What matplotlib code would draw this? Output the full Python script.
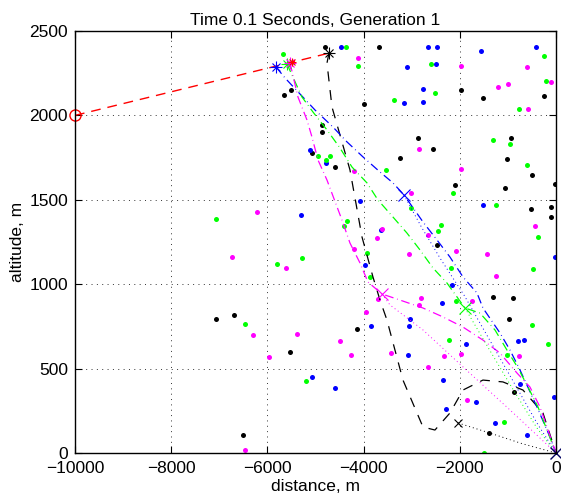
import numpy as np
import matplotlib
matplotlib.use("Agg")
import matplotlib.pyplot as plt

plt.rcParams['font.family'] = ['Liberation Sans', 'DejaVu Sans']

# scattered population points (distance, altitude)
black_x = [-5648, -5509, -4802, -3687, -3985, -1981, -1518, -256, -4865, -4865, -5066, -4595,
           -2862, -2564, -3250, -942, -1019, -499, -2106, -1067, -15, -520, -98, -98, -2467,
           -1310, -888, -971, -4144, -5524, -873, -1400, -7075, -6701, -6501]
black_y = [2119, 2150, 2403, 2403, 2067, 2150, 2105, 2117, 1941, 1900, 1779, 1692,
           1864, 1803, 1749, 1864, 1742, 1645, 1590, 1570, 1594, 1447, 1455, 1398, 1232,
           922, 918, 796, 733, 600, 359, 120, 796, 817, 107]

blue_x = [-4477, -2661, -2467, -3091, -2501, -2765, -3160, -2772, -1552, -422, -5108, -4775,
          -4068, -1518, -5308, -3638, -21, -3971, -2162, -2370, -3035, -3056, -3839, -1877,
          -790, -665, -3077, -5066, -4601, -2349, -748, -48, -1669, -2293, -1268, -603]
blue_y = [2403, 2403, 2403, 2288, 2306, 2158, 2075, 2078, 2381, 2403, 1795, 1716,
          1493, 1469, 1408, 1321, 1159, 1114, 993, 889, 796, 754, 750, 646,
          663, 671, 582, 448, 387, 432, 411, 332, 302, 261, 176, 109]

green_x = [-5682, -4366, -4110, -2605, -2522, -3374, -256, -214, -763, -4941, -4705, -4788,
           -3534, -1303, -963, -609, -2135, -3008, -1241, -4338, -4401, -2384, -2460, -368,
           -3923, -5800, -5287, -3867, -2189, -484, -2079, -499, -166, -2225, -1025, -5198,
           -1087, -1490, -7069, -6466]
green_y = [2364, 2403, 2294, 2302, 2131, 2091, 2354, 2202, 2038, 1759, 1759, 1736,
           1676, 1852, 1832, 1706, 1538, 1453, 1467, 1374, 1343, 1353, 1315, 1278,
           1183, 1120, 1157, 1043, 1096, 1088, 902, 760, 648, 668, 579, 427,
           186, 2, 1386, 764]

magenta_x = [-4110, -1981, -1212, -1004, -576, -609, -98, -2841, -1969, -4200, -3021, -6210,
             -3611, -3721, -2661, -430, -4193, -3063, -2085, -1435, -5620, -1241, -3701, -3957,
             -2807, -2841, -1753, -6293, -5391, -4491, -5967, -4262, -769, -3424, -2335, -1969,
             -2661, -1844, -6729, -6459]
magenta_y = [2340, 2294, 2166, 2184, 2040, 2287, 2196, 1803, 1680, 1669, 1542, 1428,
             1329, 1274, 1290, 1345, 1207, 1179, 1198, 1181, 1096, 1050, 912, 833,
             918, 875, 899, 699, 705, 662, 571, 581, 575, 594, 575, 585,
             511, 314, 1159, 16]

# flight paths
red_px = [-10000, -4760]
red_py = [2000, 2366]

black_px = [-4719, -4761, -4657, -4283, -4033, -3805, -3659, -3514, -3181, -2765, -2516,
            -2204, -1933, -1518, -1102, -686, -270, 0]
black_py = [2370, 2310, 2050, 1677, 1280, 1043, 906, 788, 432, 154, 136,
            237, 373, 432, 421, 373, 237, 0]

blue_px = [-5821, -5634, -5010, -4636, -4345, -4012, -3659, -3389, -3160, -2765, -2474,
           -2204, -1933, -1642, -1518, -1164, -956, -748, -395, -125, 0]
blue_py = [2287, 2222, 2032, 1931, 1843, 1754, 1665, 1600, 1529, 1369, 1262,
           1161, 1043, 948, 859, 711, 610, 492, 273, 95, 0]

green_px = [-5593, -5281, -5052, -4761, -4491, -4241, -3929, -3701, -3389, -3098, -2827,
            -2557, -2266, -1892, -1580, -1268, -1019, -790, -582, -374, 0]
green_py = [2305, 2109, 2020, 1914, 1807, 1694, 1600, 1499, 1398, 1303, 1203,
            1096, 1007, 859, 829, 729, 610, 504, 391, 273, 0]

magenta_px = [-5530, -5364, -5177, -5073, -4948, -4761, -4449, -4283, -4075, -3909, -3617,
              -3243, -2765, -2349, -1933, -1518, -1164, -811, -541, -333, 0]
magenta_py = [2311, 2109, 1973, 1872, 1736, 1617, 1380, 1244, 1126, 1013, 942,
              906, 859, 806, 746, 669, 592, 474, 391, 273, 0]

# predicted (dotted) paths
blue_dx = [-3160, -2800, -2400, -1900, -1400, -900, -400, 0]
blue_dy = [1529, 1340, 1150, 930, 680, 430, 180, 0]
green_dx = [-1892, -1400, -900, -400, 0]
green_dy = [859, 620, 380, 150, 0]
magenta_dx = [-3617, -3451, -2765, -1933, -956, 0]
magenta_dy = [942, 877, 729, 510, 255, 0]
black_dx = [-2037, -1372, -700, 0]
black_dy = [178, 118, 55, 0]

GREEN = '#00ff00'
MAGENTA = '#ff00ff'


def asterisk(ax, x, y, color, ms=8):
    # matlab style '*' marker: plus and cross on top of each other
    ax.plot(x, y, '+', color=color, ms=ms, mew=0.8)
    ax.plot(x, y, 'x', color=color, ms=ms * 0.72, mew=0.8)


fig = plt.figure(figsize=(5.61, 5.04), dpi=100)
ax = fig.add_axes([0.1337, 0.1012, 0.8573, 0.8373])

dot = dict(linestyle='none', marker='o', ms=3.6, mew=0)
ax.plot(black_x, black_y, color='k', **dot)
ax.plot(blue_x, blue_y, color='b', **dot)
ax.plot(green_x, green_y, color=GREEN, **dot)
ax.plot(magenta_x, magenta_y, color=MAGENTA, **dot)

dashdot = (7, 3, 0.6, 3)
ax.plot(red_px, red_py, color='r', lw=1.0, dashes=(7, 5))
ax.plot(black_px, black_py, color='k', lw=0.9, dashes=(8, 7))
ax.plot(blue_px, blue_py, color='b', lw=0.9, dashes=dashdot)
ax.plot(green_px, green_py, color=GREEN, lw=0.9, dashes=dashdot)
ax.plot(magenta_px, magenta_py, color=MAGENTA, lw=0.9, dashes=dashdot)

ax.plot(blue_dx, blue_dy, color='b', lw=0.7, dashes=(1, 3))
ax.plot(green_dx, green_dy, color=GREEN, lw=0.7, dashes=(1, 3))
ax.plot(magenta_dx, magenta_dy, color=MAGENTA, lw=0.7, dashes=(1, 3))
ax.plot(black_dx, black_dy, color='k', lw=0.7, dashes=(1, 3))

# markers
ax.plot(-10000, 2000, 'o', mfc='none', mec='r', ms=8, mew=1, clip_on=False)
asterisk(ax, -5821, 2287, 'b')
asterisk(ax, -5593, 2305, GREEN)
asterisk(ax, -5530, 2311, MAGENTA)
asterisk(ax, -5490, 2314, 'r', ms=6)
asterisk(ax, -4719, 2370, 'k')
ax.plot(-3160, 1529, 'x', color='b', ms=8, mew=0.8)
ax.plot(-1892, 859, 'x', color=GREEN, ms=8, mew=0.8)
ax.plot(-3617, 942, 'x', color=MAGENTA, ms=8, mew=0.8)
ax.plot(-2037, 178, 'x', color='k', ms=6, mew=0.8)
ax.plot(0, 0, 'x', color='#000060', ms=8, mew=1.0, clip_on=False)

ax.set_xlim(-10000, 0)
ax.set_ylim(0, 2500)
ax.set_xticks(np.arange(-10000, 1, 2000))
ax.set_yticks(np.arange(0, 2501, 500))
ax.grid(True, color='#333333', linewidth=0.7, dashes=(1, 4.5))
ax.tick_params(direction='in', top=True, right=True, labelsize=12.5, length=5, width=0.8)
ax.tick_params(axis='x', pad=6)
ax.tick_params(axis='y', pad=5)
for s in ax.spines.values():
    s.set_linewidth(1.0)

ax.set_xlabel('distance, m', fontsize=12.5, labelpad=2)
ax.set_ylabel('altitude, m', fontsize=12.5, labelpad=3)
ax.set_title('Time 0.1 Seconds, Generation 1', fontsize=12.5, pad=4)

fig.savefig('out.png', dpi=100)
